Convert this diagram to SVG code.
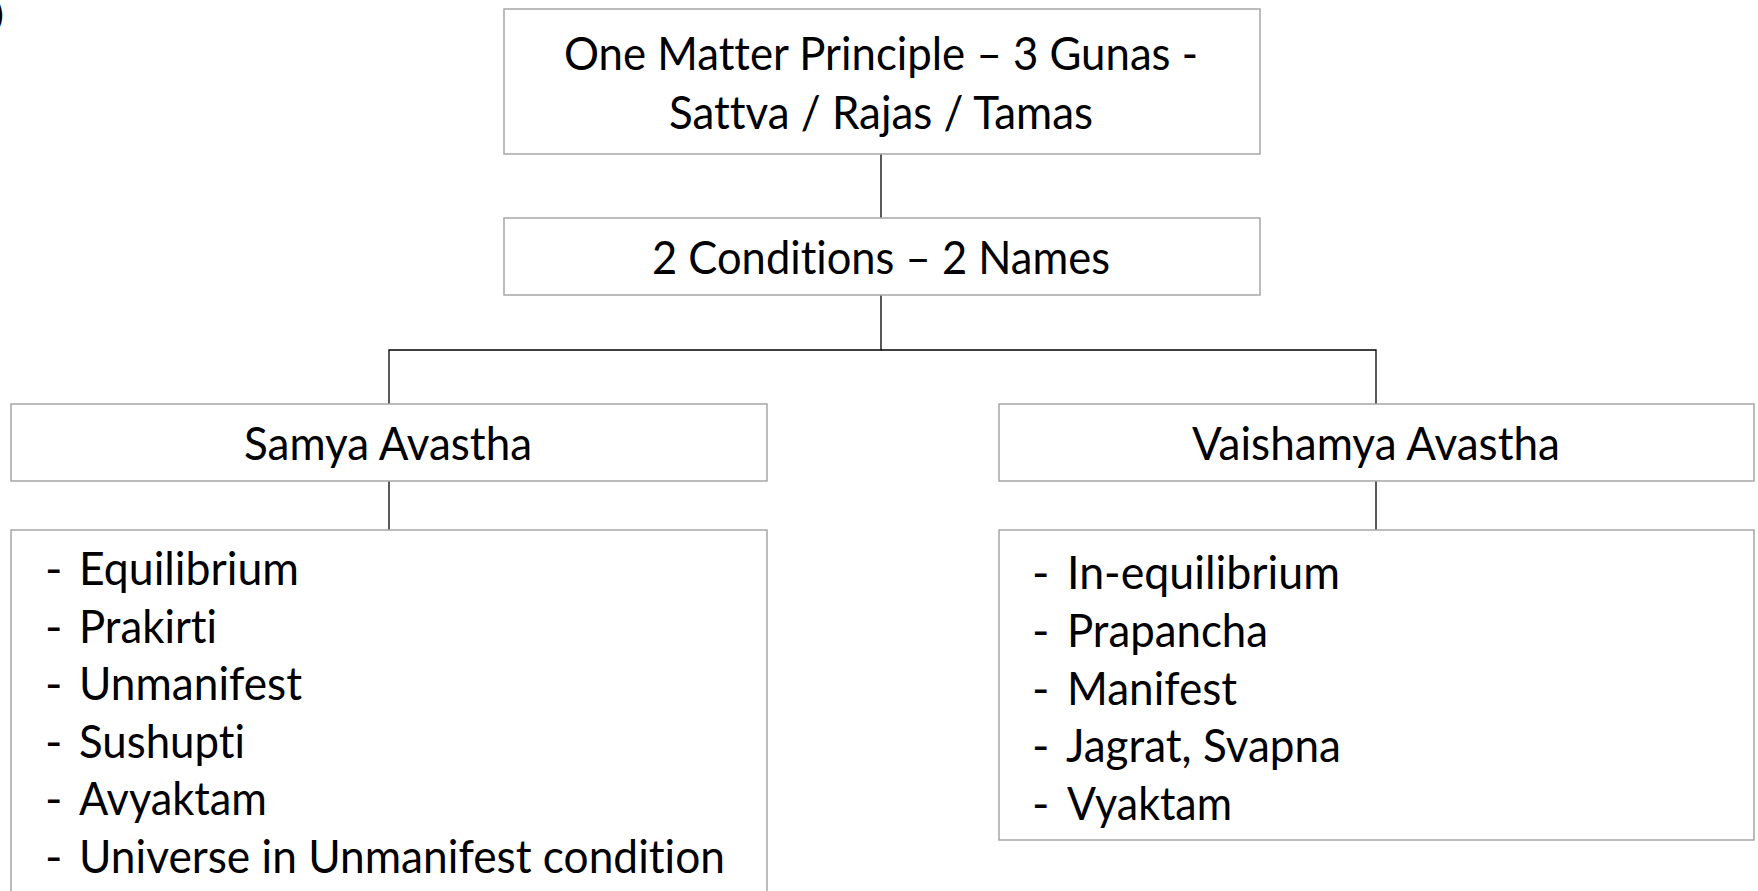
<svg xmlns="http://www.w3.org/2000/svg" width="1758" height="891" viewBox="0 0 1758 891">
  <style>
    .box { fill: #ffffff; stroke: #a6a6a6; stroke-width: 1.5; }
    .wire { fill: none; stroke: #000000; stroke-width: 1.3; }
    .t { font-family: Lato, "Liberation Sans", sans-serif; font-size: 47px; fill: #000000; font-variant-ligatures: none; }
    .c { text-anchor: middle; }
  </style>
  <rect width="1758" height="891" fill="#ffffff"/>

  <!-- closing parenthesis running off the top-left edge -->
  <text x="-5" y="26" style="font-family: Lato, 'Liberation Sans', sans-serif; font-size: 32px;">)</text>

  <g id="connectors">
    <line class="wire" x1="881" y1="154" x2="881" y2="218"/>
    <polyline class="wire" points="881,295 881,350 389,350 389,404"/>
    <polyline class="wire" points="881,350 1376,350 1376,404"/>
    <line class="wire" x1="389" y1="481" x2="389" y2="530"/>
    <line class="wire" x1="1376" y1="481" x2="1376" y2="530"/>
  </g>

  <g id="matter">
    <rect class="box" x="504" y="9" width="756" height="145"/>
    <text class="t c" x="881" y="70" textLength="634" lengthAdjust="spacingAndGlyphs">One Matter Principle – 3 Gunas -</text>
    <text class="t c" x="881" y="129" textLength="424" lengthAdjust="spacingAndGlyphs">Sattva / Rajas / Tamas</text>
  </g>

  <g id="conditions">
    <rect class="box" x="504" y="218" width="756" height="77"/>
    <text class="t c" x="881" y="274" textLength="458" lengthAdjust="spacingAndGlyphs">2 Conditions – 2 Names</text>
  </g>

  <g id="samya">
    <rect class="box" x="11" y="404" width="756" height="77"/>
    <text class="t c" x="388" y="460" textLength="288" lengthAdjust="spacingAndGlyphs">Samya Avastha</text>
  </g>

  <g id="vaishamya">
    <rect class="box" x="999" y="404" width="755" height="77"/>
    <text class="t c" x="1376" y="460" textLength="368" lengthAdjust="spacingAndGlyphs">Vaishamya Avastha</text>
  </g>

  <g id="samya-list">
    <rect class="box" x="11" y="530" width="756" height="380"/>
    <g class="t">
      <text x="45" y="585">-</text><text x="79" y="585" textLength="220" lengthAdjust="spacingAndGlyphs">Equilibrium</text>
      <text x="45" y="643">-</text><text x="79" y="643" textLength="138" lengthAdjust="spacingAndGlyphs">Prakirti</text>
      <text x="45" y="700">-</text><text x="79" y="700" textLength="223" lengthAdjust="spacingAndGlyphs">Unmanifest</text>
      <text x="45" y="758">-</text><text x="79" y="758" textLength="166" lengthAdjust="spacingAndGlyphs">Sushupti</text>
      <text x="45" y="815">-</text><text x="79" y="815" textLength="188" lengthAdjust="spacingAndGlyphs">Avyaktam</text>
      <text x="45" y="873">-</text><text x="79" y="873" textLength="646" lengthAdjust="spacingAndGlyphs">Universe in Unmanifest condition</text>
    </g>
  </g>

  <g id="vaishamya-list">
    <rect class="box" x="999" y="530" width="755" height="310"/>
    <g class="t">
      <text x="1032" y="589">-</text><text x="1067" y="589" textLength="273" lengthAdjust="spacingAndGlyphs">In-equilibrium</text>
      <text x="1032" y="647">-</text><text x="1067" y="647" textLength="201" lengthAdjust="spacingAndGlyphs">Prapancha</text>
      <text x="1032" y="705">-</text><text x="1067" y="705" textLength="170" lengthAdjust="spacingAndGlyphs">Manifest</text>
      <text x="1032" y="762">-</text><text x="1066" y="762" textLength="275" lengthAdjust="spacingAndGlyphs">Jagrat, Svapna</text>
      <text x="1032" y="820">-</text><text x="1067" y="820" textLength="165" lengthAdjust="spacingAndGlyphs">Vyaktam</text>
    </g>
  </g>
</svg>
